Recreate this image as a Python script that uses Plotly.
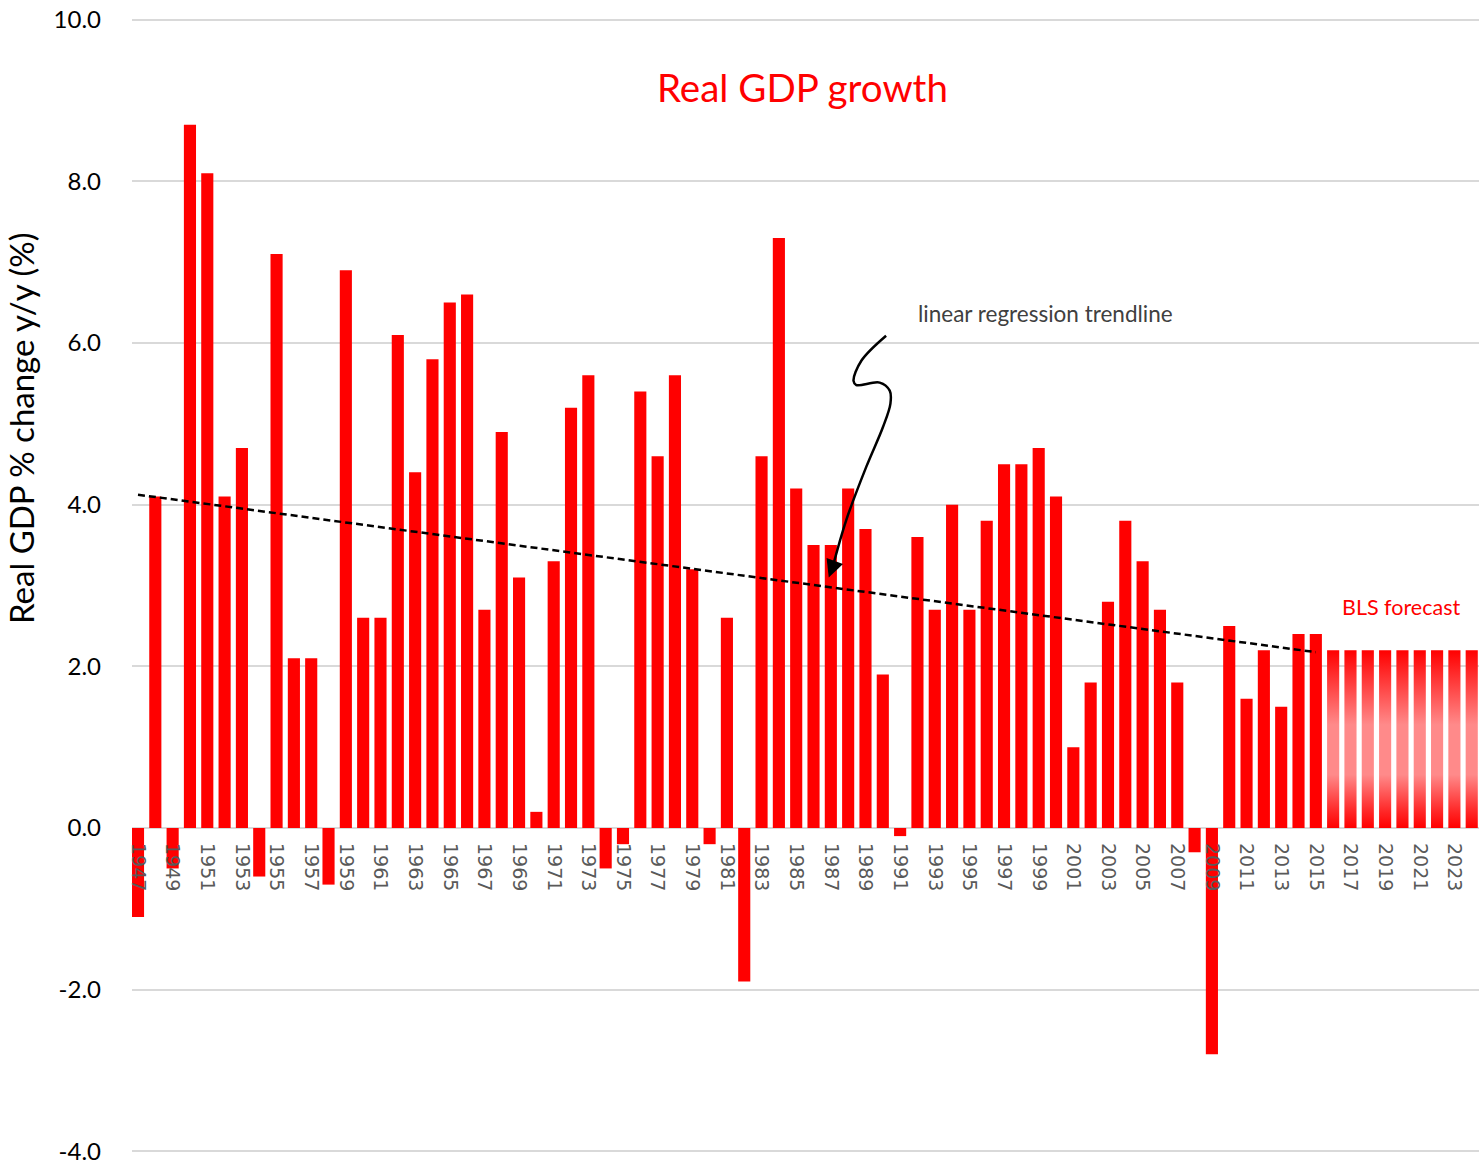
import numpy as np
import plotly.graph_objects as go

# Annual real GDP growth, % change year over year
years = list(range(1947, 2016))
growth = [
    -1.1, 4.1, -0.5, 8.7, 8.1, 4.1, 4.7, -0.6, 7.1, 2.1,
    2.1, -0.7, 6.9, 2.6, 2.6, 6.1, 4.4, 5.8, 6.5, 6.6,
    2.7, 4.9, 3.1, 0.2, 3.3, 5.2, 5.6, -0.5, -0.2, 5.4,
    4.6, 5.6, 3.2, -0.2, 2.6, -1.9, 4.6, 7.3, 4.2, 3.5,
    3.5, 4.2, 3.7, 1.9, -0.1, 3.6, 2.7, 4.0, 2.7, 3.8,
    4.5, 4.5, 4.7, 4.1, 1.0, 1.8, 2.8, 3.8, 3.3, 2.7,
    1.8, -0.3, -2.8, 2.5, 1.6, 2.2, 1.5, 2.4, 2.4,
]

# BLS projection
forecast_years = list(range(2016, 2025))
forecast_growth = [2.2] * len(forecast_years)

tick_years = list(range(1947, 2024, 2))
y_ticks = [-4, -2, 0, 2, 4, 6, 8, 10]

# hand-drawn pointer towards the trendline (year, % growth)
pointer_x = [1990.19, 1988.76, 1988.31, 1988.47, 1989.82, 1990.40, 1990.44, 1990.01, 1989.05, 1987.89, 1987.12]
pointer_y = [6.09, 5.78, 5.53, 5.48, 5.51, 5.41, 5.25, 4.96, 4.47, 3.81, 3.24]
pointer_tip = (1986.88, 3.10)

RED = "#ff0000"
BAR_W = 0.7
W, H = 1479, 1168
M_L, M_R, M_T, M_B = 132, 0, 18, 15
Y_MIN, Y_MAX = -4, 10
EPS = 0.02  # keeps the outermost gridlines inside the plot area
X_MIN, X_MAX = 1946.654, 2024.42

fig = go.Figure()

# historical bars
fig.add_trace(go.Bar(
    x=years, y=growth, width=BAR_W,
    marker=dict(color=RED, line=dict(width=0)),
    showlegend=False, hoverinfo="x+y",
))

# forecast bars drawn as filled boxes so they can carry a vertical gradient
fx, fy = [], []
for yr, v in zip(forecast_years, forecast_growth):
    x0, x1 = yr - BAR_W / 2, yr + BAR_W / 2
    fx += [x0, x0, x1, x1, x0, None]
    fy += [0, v, v, 0, 0, None]
fig.add_trace(go.Scatter(
    x=fx, y=fy, mode="lines", fill="toself",
    line=dict(width=0, color=RED),
    fillgradient=dict(
        type="vertical",
        start=0, stop=max(forecast_growth),
        colorscale=[[0, "#ff0000"], [0.1, "#ff2a2a"], [0.3, "#ff8a8a"],
                    [0.58, "#ff8a8a"], [1, "#ff0000"]],
    ),
    showlegend=False, hoverinfo="skip",
))

# least-squares trendline over the historical years
slope, intercept = np.polyfit(years, growth, 1)
trend_x = [years[0], years[-1]]
trend_y = [slope * x + intercept for x in trend_x]
fig.add_trace(go.Scatter(
    x=trend_x, y=trend_y, mode="lines",
    line=dict(color="black", width=2.5, dash="7px,4px"),
    showlegend=False, hoverinfo="skip",
))

# squiggly pointer
fig.add_trace(go.Scatter(
    x=pointer_x, y=pointer_y, mode="lines",
    line=dict(color="black", width=2.5, shape="spline", smoothing=1.0),
    showlegend=False, hoverinfo="skip",
))
fig.add_annotation(
    x=pointer_tip[0], y=pointer_tip[1], ax=pointer_x[-1], ay=pointer_y[-1],
    xref="x", yref="y", axref="x", ayref="y",
    text="", showarrow=True, arrowhead=2, arrowsize=1.4, arrowwidth=2.5,
    arrowcolor="black", standoff=0,
)

plot_h = H - M_T - M_B
zero_pos = (0 - (Y_MIN - EPS)) / (Y_MAX - Y_MIN + 2 * EPS)


def px_to_paper(px, py):
    return (px - M_L) / (W - M_L - M_R), (H - M_B - py) / plot_h


ann_font = "Lato, Carlito, 'Open Sans', sans-serif"


def add_label(px, py, text, size, color, angle=0):
    x, y = px_to_paper(px, py)
    fig.add_annotation(x=x, y=y, xref="paper", yref="paper", text=text,
                       xanchor="center", yanchor="middle", textangle=angle,
                       showarrow=False, font=dict(family=ann_font, size=size, color=color))


add_label(802, 87, "Real GDP growth", 38.5, RED)
add_label(1045, 313, "linear regression trendline", 22.5, "#404040")
add_label(1401, 607, "BLS forecast", 21.5, RED)
add_label(21, 429, "Real GDP % change y/y (%)", 33, "black", angle=-90)

fig.update_layout(
    width=W, height=H,
    margin=dict(l=M_L, r=M_R, t=M_T, b=M_B, pad=0, autoexpand=False),
    plot_bgcolor="white", paper_bgcolor="white",
    xaxis=dict(
        range=[X_MIN, X_MAX], tickmode="array", tickvals=tick_years,
        ticktext=[str(y) for y in tick_years],
        tickangle=90, showgrid=False, zeroline=False, showline=False,
        ticks="", anchor="free", position=zero_pos, automargin=False,
        ticklabelstandoff=14,
        tickfont=dict(family="DejaVu Sans", size=19, color="#595959"),
    ),
    yaxis=dict(
        range=[Y_MIN - EPS, Y_MAX + EPS], tickmode="array", tickvals=y_ticks,
        ticktext=[f"{v:.1f}" for v in y_ticks],
        showgrid=True, gridcolor="#d9d9d9", gridwidth=1.5,
        zeroline=True, zerolinecolor="#d9d9d9", zerolinewidth=1.5,
        showline=False, ticks="", ticklabelstandoff=30,
        ticklabeloverflow="allow", automargin=False,
        tickfont=dict(family=ann_font, size=24, color="black"),
    ),
)

fig.write_html("out.html")
